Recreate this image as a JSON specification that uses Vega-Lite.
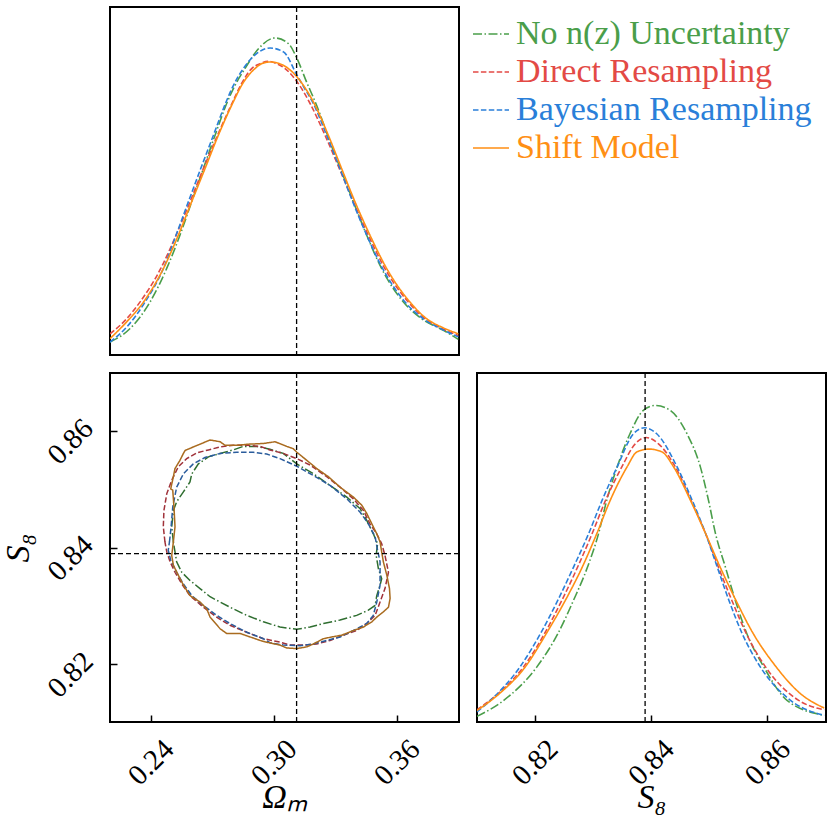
{
"$schema": "https://vega.github.io/schema/vega-lite/v6.json",
"background": "white",
"padding": {"left": 0, "top": 5, "right": 4, "bottom": 5},
"bounds": "flush",
"spacing": 18,
"columns": 2,
"config": {
  "view": {"stroke": "black", "strokeWidth": 2},
  "font": "Liberation Serif",
  "axis": {"domain": false, "grid": false, "tickColor": "black", "tickWidth": 1.5, "tickSize": -7,
    "labelFont": "Liberation Serif", "labelFontSize": 29, "labelColor": "black", "labelAngle": -45,
    "labelAlign": "center", "labelBaseline": "middle", "labelFlush": false, "labelOverlap": false,
    "titleFont": "Liberation Serif", "titleFontSize": 34, "titleFontWeight": "normal", "titleColor": "black", "titleFontStyle": "italic"}
},
"datasets": {
  "truth": [{"om": 0.3112, "s8": 0.839}],
  "legendRows": [{"series": "No n(z) Uncertainty"}, {"series": "Direct Resampling"}, {"series": "Bayesian Resampling"}, {"series": "Shift Model"}],
  "om1d": [
    {"series":"No n(z) Uncertainty","om":0.2202,"d":0.037},{"series":"No n(z) Uncertainty","om":0.2300,"d":0.076},{"series":"No n(z) Uncertainty","om":0.2397,"d":0.152},{"series":"No n(z) Uncertainty","om":0.2478,"d":0.248},{"series":"No n(z) Uncertainty","om":0.2543,"d":0.344},{"series":"No n(z) Uncertainty","om":0.2600,"d":0.440},{"series":"No n(z) Uncertainty","om":0.2657,"d":0.535},{"series":"No n(z) Uncertainty","om":0.2714,"d":0.631},{"series":"No n(z) Uncertainty","om":0.2774,"d":0.727},{"series":"No n(z) Uncertainty","om":0.2812,"d":0.775},{"series":"No n(z) Uncertainty","om":0.2860,"d":0.823},{"series":"No n(z) Uncertainty","om":0.2926,"d":0.880},{"series":"No n(z) Uncertainty","om":0.3007,"d":0.911},{"series":"No n(z) Uncertainty","om":0.3072,"d":0.895},{"series":"No n(z) Uncertainty","om":0.3114,"d":0.852},{"series":"No n(z) Uncertainty","om":0.3161,"d":0.784},{"series":"No n(z) Uncertainty","om":0.3210,"d":0.717},{"series":"No n(z) Uncertainty","om":0.3275,"d":0.612},{"series":"No n(z) Uncertainty","om":0.3332,"d":0.526},{"series":"No n(z) Uncertainty","om":0.3389,"d":0.440},{"series":"No n(z) Uncertainty","om":0.3454,"d":0.344},{"series":"No n(z) Uncertainty","om":0.3527,"d":0.248},{"series":"No n(z) Uncertainty","om":0.3633,"d":0.152},{"series":"No n(z) Uncertainty","om":0.3722,"d":0.104},{"series":"No n(z) Uncertainty","om":0.3828,"d":0.071},{"series":"No n(z) Uncertainty","om":0.3901,"d":0.045},
    {"series":"Direct Resampling","om":0.2202,"d":0.061},{"series":"Direct Resampling","om":0.2283,"d":0.104},{"series":"Direct Resampling","om":0.2348,"d":0.152},{"series":"Direct Resampling","om":0.2449,"d":0.248},{"series":"Direct Resampling","om":0.2524,"d":0.344},{"series":"Direct Resampling","om":0.2592,"d":0.440},{"series":"Direct Resampling","om":0.2657,"d":0.535},{"series":"Direct Resampling","om":0.2726,"d":0.631},{"series":"Direct Resampling","om":0.2800,"d":0.727},{"series":"Direct Resampling","om":0.2839,"d":0.775},{"series":"Direct Resampling","om":0.2893,"d":0.823},{"series":"Direct Resampling","om":0.2934,"d":0.837},{"series":"Direct Resampling","om":0.2974,"d":0.844},{"series":"Direct Resampling","om":0.3015,"d":0.837},{"series":"Direct Resampling","om":0.3056,"d":0.823},{"series":"Direct Resampling","om":0.3126,"d":0.775},{"series":"Direct Resampling","om":0.3174,"d":0.727},{"series":"Direct Resampling","om":0.3251,"d":0.631},{"series":"Direct Resampling","om":0.3321,"d":0.535},{"series":"Direct Resampling","om":0.3389,"d":0.440},{"series":"Direct Resampling","om":0.3462,"d":0.344},{"series":"Direct Resampling","om":0.3543,"d":0.248},{"series":"Direct Resampling","om":0.3657,"d":0.152},{"series":"Direct Resampling","om":0.3739,"d":0.104},{"series":"Direct Resampling","om":0.3828,"d":0.074},{"series":"Direct Resampling","om":0.3901,"d":0.056},
    {"series":"Bayesian Resampling","om":0.2202,"d":0.037},{"series":"Bayesian Resampling","om":0.2283,"d":0.080},{"series":"Bayesian Resampling","om":0.2373,"d":0.152},{"series":"Bayesian Resampling","om":0.2462,"d":0.248},{"series":"Bayesian Resampling","om":0.2524,"d":0.344},{"series":"Bayesian Resampling","om":0.2584,"d":0.440},{"series":"Bayesian Resampling","om":0.2644,"d":0.535},{"series":"Bayesian Resampling","om":0.2706,"d":0.631},{"series":"Bayesian Resampling","om":0.2768,"d":0.727},{"series":"Bayesian Resampling","om":0.2804,"d":0.775},{"series":"Bayesian Resampling","om":0.2852,"d":0.823},{"series":"Bayesian Resampling","om":0.2917,"d":0.866},{"series":"Bayesian Resampling","om":0.2983,"d":0.882},{"series":"Bayesian Resampling","om":0.3048,"d":0.871},{"series":"Bayesian Resampling","om":0.3113,"d":0.805},{"series":"Bayesian Resampling","om":0.3145,"d":0.772},{"series":"Bayesian Resampling","om":0.3194,"d":0.722},{"series":"Bayesian Resampling","om":0.3259,"d":0.631},{"series":"Bayesian Resampling","om":0.3324,"d":0.535},{"series":"Bayesian Resampling","om":0.3386,"d":0.440},{"series":"Bayesian Resampling","om":0.3454,"d":0.344},{"series":"Bayesian Resampling","om":0.3532,"d":0.248},{"series":"Bayesian Resampling","om":0.3641,"d":0.152},{"series":"Bayesian Resampling","om":0.3730,"d":0.104},{"series":"Bayesian Resampling","om":0.3828,"d":0.072},{"series":"Bayesian Resampling","om":0.3901,"d":0.052},
    {"series":"Shift Model","om":0.2202,"d":0.047},{"series":"Shift Model","om":0.2283,"d":0.095},{"series":"Shift Model","om":0.2365,"d":0.152},{"series":"Shift Model","om":0.2462,"d":0.248},{"series":"Shift Model","om":0.2535,"d":0.344},{"series":"Shift Model","om":0.2600,"d":0.440},{"series":"Shift Model","om":0.2665,"d":0.535},{"series":"Shift Model","om":0.2730,"d":0.631},{"series":"Shift Model","om":0.2803,"d":0.727},{"series":"Shift Model","om":0.2844,"d":0.775},{"series":"Shift Model","om":0.2909,"d":0.823},{"series":"Shift Model","om":0.2945,"d":0.838},{"series":"Shift Model","om":0.2982,"d":0.842},{"series":"Shift Model","om":0.3025,"d":0.838},{"series":"Shift Model","om":0.3072,"d":0.823},{"series":"Shift Model","om":0.3145,"d":0.775},{"series":"Shift Model","om":0.3194,"d":0.727},{"series":"Shift Model","om":0.3267,"d":0.631},{"series":"Shift Model","om":0.3332,"d":0.535},{"series":"Shift Model","om":0.3397,"d":0.440},{"series":"Shift Model","om":0.3470,"d":0.344},{"series":"Shift Model","om":0.3552,"d":0.248},{"series":"Shift Model","om":0.3665,"d":0.152},{"series":"Shift Model","om":0.3747,"d":0.104},{"series":"Shift Model","om":0.3828,"d":0.078},{"series":"Shift Model","om":0.3901,"d":0.061}
  ],
  "s81d": [
    {"series":"No n(z) Uncertainty","s8":0.8101,"d":0.016},{"series":"No n(z) Uncertainty","s8":0.8147,"d":0.062},{"series":"No n(z) Uncertainty","s8":0.8204,"d":0.158},{"series":"No n(z) Uncertainty","s8":0.8240,"d":0.253},{"series":"No n(z) Uncertainty","s8":0.8267,"d":0.349},{"series":"No n(z) Uncertainty","s8":0.8291,"d":0.444},{"series":"No n(z) Uncertainty","s8":0.8310,"d":0.540},{"series":"No n(z) Uncertainty","s8":0.8324,"d":0.635},{"series":"No n(z) Uncertainty","s8":0.8342,"d":0.731},{"series":"No n(z) Uncertainty","s8":0.8364,"d":0.826},{"series":"No n(z) Uncertainty","s8":0.8387,"d":0.893},{"series":"No n(z) Uncertainty","s8":0.8408,"d":0.907},{"series":"No n(z) Uncertainty","s8":0.8433,"d":0.893},{"series":"No n(z) Uncertainty","s8":0.8462,"d":0.826},{"series":"No n(z) Uncertainty","s8":0.8485,"d":0.731},{"series":"No n(z) Uncertainty","s8":0.8499,"d":0.635},{"series":"No n(z) Uncertainty","s8":0.8511,"d":0.540},{"series":"No n(z) Uncertainty","s8":0.8528,"d":0.444},{"series":"No n(z) Uncertainty","s8":0.8545,"d":0.349},{"series":"No n(z) Uncertainty","s8":0.8565,"d":0.253},{"series":"No n(z) Uncertainty","s8":0.8594,"d":0.158},{"series":"No n(z) Uncertainty","s8":0.8634,"d":0.062},{"series":"No n(z) Uncertainty","s8":0.8698,"d":0.019},
    {"series":"Direct Resampling","s8":0.8101,"d":0.035},{"series":"Direct Resampling","s8":0.8140,"d":0.085},{"series":"Direct Resampling","s8":0.8181,"d":0.158},{"series":"Direct Resampling","s8":0.8217,"d":0.253},{"series":"Direct Resampling","s8":0.8247,"d":0.349},{"series":"Direct Resampling","s8":0.8274,"d":0.444},{"series":"Direct Resampling","s8":0.8299,"d":0.540},{"series":"Direct Resampling","s8":0.8322,"d":0.635},{"series":"Direct Resampling","s8":0.8350,"d":0.731},{"series":"Direct Resampling","s8":0.8373,"d":0.797},{"series":"Direct Resampling","s8":0.8392,"d":0.815},{"series":"Direct Resampling","s8":0.8413,"d":0.797},{"series":"Direct Resampling","s8":0.8442,"d":0.731},{"series":"Direct Resampling","s8":0.8469,"d":0.635},{"series":"Direct Resampling","s8":0.8494,"d":0.540},{"series":"Direct Resampling","s8":0.8516,"d":0.444},{"series":"Direct Resampling","s8":0.8539,"d":0.349},{"series":"Direct Resampling","s8":0.8564,"d":0.253},{"series":"Direct Resampling","s8":0.8597,"d":0.158},{"series":"Direct Resampling","s8":0.8654,"d":0.062},{"series":"Direct Resampling","s8":0.8698,"d":0.035},
    {"series":"Bayesian Resampling","s8":0.8101,"d":0.029},{"series":"Bayesian Resampling","s8":0.8124,"d":0.062},{"series":"Bayesian Resampling","s8":0.8175,"d":0.158},{"series":"Bayesian Resampling","s8":0.8210,"d":0.253},{"series":"Bayesian Resampling","s8":0.8240,"d":0.349},{"series":"Bayesian Resampling","s8":0.8267,"d":0.444},{"series":"Bayesian Resampling","s8":0.8293,"d":0.540},{"series":"Bayesian Resampling","s8":0.8316,"d":0.635},{"series":"Bayesian Resampling","s8":0.8342,"d":0.731},{"series":"Bayesian Resampling","s8":0.8370,"d":0.826},{"series":"Bayesian Resampling","s8":0.8389,"d":0.843},{"series":"Bayesian Resampling","s8":0.8410,"d":0.826},{"series":"Bayesian Resampling","s8":0.8445,"d":0.731},{"series":"Bayesian Resampling","s8":0.8471,"d":0.635},{"series":"Bayesian Resampling","s8":0.8494,"d":0.540},{"series":"Bayesian Resampling","s8":0.8514,"d":0.444},{"series":"Bayesian Resampling","s8":0.8534,"d":0.349},{"series":"Bayesian Resampling","s8":0.8557,"d":0.253},{"series":"Bayesian Resampling","s8":0.8588,"d":0.158},{"series":"Bayesian Resampling","s8":0.8640,"d":0.062},{"series":"Bayesian Resampling","s8":0.8698,"d":0.019},
    {"series":"Shift Model","s8":0.8101,"d":0.033},{"series":"Shift Model","s8":0.8140,"d":0.082},{"series":"Shift Model","s8":0.8184,"d":0.158},{"series":"Shift Model","s8":0.8220,"d":0.253},{"series":"Shift Model","s8":0.8253,"d":0.349},{"series":"Shift Model","s8":0.8282,"d":0.444},{"series":"Shift Model","s8":0.8307,"d":0.540},{"series":"Shift Model","s8":0.8330,"d":0.635},{"series":"Shift Model","s8":0.8359,"d":0.731},{"series":"Shift Model","s8":0.8376,"d":0.774},{"series":"Shift Model","s8":0.8397,"d":0.782},{"series":"Shift Model","s8":0.8419,"d":0.774},{"series":"Shift Model","s8":0.8439,"d":0.731},{"series":"Shift Model","s8":0.8468,"d":0.635},{"series":"Shift Model","s8":0.8494,"d":0.540},{"series":"Shift Model","s8":0.8519,"d":0.444},{"series":"Shift Model","s8":0.8546,"d":0.349},{"series":"Shift Model","s8":0.8576,"d":0.253},{"series":"Shift Model","s8":0.8612,"d":0.165},{"series":"Shift Model","s8":0.8658,"d":0.080},{"series":"Shift Model","s8":0.8698,"d":0.040}
  ],
  "contour": [
    {"series":"No n(z) Uncertainty","i":0,"om":0.2511,"s8":0.8410},{"series":"No n(z) Uncertainty","i":1,"om":0.2503,"s8":0.8436},{"series":"No n(z) Uncertainty","i":2,"om":0.2511,"s8":0.8464},{"series":"No n(z) Uncertainty","i":3,"om":0.2527,"s8":0.8479},{"series":"No n(z) Uncertainty","i":4,"om":0.2560,"s8":0.8496},{"series":"No n(z) Uncertainty","i":5,"om":0.2592,"s8":0.8513},{"series":"No n(z) Uncertainty","i":6,"om":0.2601,"s8":0.8527},{"series":"No n(z) Uncertainty","i":7,"om":0.2633,"s8":0.8544},{"series":"No n(z) Uncertainty","i":8,"om":0.2682,"s8":0.8556},{"series":"No n(z) Uncertainty","i":9,"om":0.2739,"s8":0.8562},{"series":"No n(z) Uncertainty","i":10,"om":0.2803,"s8":0.8568},{"series":"No n(z) Uncertainty","i":11,"om":0.2852,"s8":0.8574},{"series":"No n(z) Uncertainty","i":12,"om":0.2918,"s8":0.8574},{"series":"No n(z) Uncertainty","i":13,"om":0.2982,"s8":0.8569},{"series":"No n(z) Uncertainty","i":14,"om":0.3047,"s8":0.8562},{"series":"No n(z) Uncertainty","i":15,"om":0.3113,"s8":0.8544},{"series":"No n(z) Uncertainty","i":16,"om":0.3194,"s8":0.8527},{"series":"No n(z) Uncertainty","i":17,"om":0.3275,"s8":0.8507},{"series":"No n(z) Uncertainty","i":18,"om":0.3357,"s8":0.8487},{"series":"No n(z) Uncertainty","i":19,"om":0.3422,"s8":0.8467},{"series":"No n(z) Uncertainty","i":20,"om":0.3454,"s8":0.8447},{"series":"No n(z) Uncertainty","i":21,"om":0.3486,"s8":0.8424},{"series":"No n(z) Uncertainty","i":22,"om":0.3507,"s8":0.8407},{"series":"No n(z) Uncertainty","i":23,"om":0.3500,"s8":0.8387},{"series":"No n(z) Uncertainty","i":24,"om":0.3511,"s8":0.8364},{"series":"No n(z) Uncertainty","i":25,"om":0.3527,"s8":0.8347},{"series":"No n(z) Uncertainty","i":26,"om":0.3519,"s8":0.8336},{"series":"No n(z) Uncertainty","i":27,"om":0.3503,"s8":0.8318},{"series":"No n(z) Uncertainty","i":28,"om":0.3495,"s8":0.8301},{"series":"No n(z) Uncertainty","i":29,"om":0.3462,"s8":0.8293},{"series":"No n(z) Uncertainty","i":30,"om":0.3405,"s8":0.8284},{"series":"No n(z) Uncertainty","i":31,"om":0.3324,"s8":0.8276},{"series":"No n(z) Uncertainty","i":32,"om":0.3243,"s8":0.8270},{"series":"No n(z) Uncertainty","i":33,"om":0.3178,"s8":0.8264},{"series":"No n(z) Uncertainty","i":34,"om":0.3113,"s8":0.8260},{"series":"No n(z) Uncertainty","i":35,"om":0.3031,"s8":0.8264},{"series":"No n(z) Uncertainty","i":36,"om":0.2950,"s8":0.8273},{"series":"No n(z) Uncertainty","i":37,"om":0.2869,"s8":0.8284},{"series":"No n(z) Uncertainty","i":38,"om":0.2787,"s8":0.8298},{"series":"No n(z) Uncertainty","i":39,"om":0.2690,"s8":0.8316},{"series":"No n(z) Uncertainty","i":40,"om":0.2641,"s8":0.8330},{"series":"No n(z) Uncertainty","i":41,"om":0.2592,"s8":0.8344},{"series":"No n(z) Uncertainty","i":42,"om":0.2552,"s8":0.8358},{"series":"No n(z) Uncertainty","i":43,"om":0.2527,"s8":0.8376},{"series":"No n(z) Uncertainty","i":44,"om":0.2519,"s8":0.8393},{"series":"No n(z) Uncertainty","i":45,"om":0.2511,"s8":0.8410},
    {"series":"Direct Resampling","i":0,"om":0.2470,"s8":0.8410},{"series":"Direct Resampling","i":1,"om":0.2462,"s8":0.8436},{"series":"Direct Resampling","i":2,"om":0.2465,"s8":0.8464},{"series":"Direct Resampling","i":3,"om":0.2479,"s8":0.8493},{"series":"Direct Resampling","i":4,"om":0.2503,"s8":0.8516},{"series":"Direct Resampling","i":5,"om":0.2535,"s8":0.8539},{"series":"Direct Resampling","i":6,"om":0.2576,"s8":0.8553},{"series":"Direct Resampling","i":7,"om":0.2625,"s8":0.8563},{"series":"Direct Resampling","i":8,"om":0.2682,"s8":0.8568},{"series":"Direct Resampling","i":9,"om":0.2739,"s8":0.8573},{"series":"Direct Resampling","i":10,"om":0.2803,"s8":0.8576},{"series":"Direct Resampling","i":11,"om":0.2869,"s8":0.8576},{"series":"Direct Resampling","i":12,"om":0.2934,"s8":0.8574},{"series":"Direct Resampling","i":13,"om":0.2982,"s8":0.8568},{"series":"Direct Resampling","i":14,"om":0.3047,"s8":0.8562},{"series":"Direct Resampling","i":15,"om":0.3113,"s8":0.8553},{"series":"Direct Resampling","i":16,"om":0.3178,"s8":0.8542},{"series":"Direct Resampling","i":17,"om":0.3259,"s8":0.8522},{"series":"Direct Resampling","i":18,"om":0.3324,"s8":0.8504},{"series":"Direct Resampling","i":19,"om":0.3389,"s8":0.8484},{"series":"Direct Resampling","i":20,"om":0.3438,"s8":0.8464},{"series":"Direct Resampling","i":21,"om":0.3470,"s8":0.8441},{"series":"Direct Resampling","i":22,"om":0.3503,"s8":0.8424},{"series":"Direct Resampling","i":23,"om":0.3527,"s8":0.8407},{"series":"Direct Resampling","i":24,"om":0.3543,"s8":0.8387},{"series":"Direct Resampling","i":25,"om":0.3560,"s8":0.8358},{"series":"Direct Resampling","i":26,"om":0.3543,"s8":0.8330},{"series":"Direct Resampling","i":27,"om":0.3519,"s8":0.8307},{"series":"Direct Resampling","i":28,"om":0.3495,"s8":0.8284},{"series":"Direct Resampling","i":29,"om":0.3454,"s8":0.8270},{"series":"Direct Resampling","i":30,"om":0.3405,"s8":0.8258},{"series":"Direct Resampling","i":31,"om":0.3340,"s8":0.8250},{"series":"Direct Resampling","i":32,"om":0.3275,"s8":0.8241},{"series":"Direct Resampling","i":33,"om":0.3210,"s8":0.8235},{"series":"Direct Resampling","i":34,"om":0.3145,"s8":0.8233},{"series":"Direct Resampling","i":35,"om":0.3080,"s8":0.8233},{"series":"Direct Resampling","i":36,"om":0.3031,"s8":0.8238},{"series":"Direct Resampling","i":37,"om":0.2950,"s8":0.8244},{"series":"Direct Resampling","i":38,"om":0.2869,"s8":0.8255},{"series":"Direct Resampling","i":39,"om":0.2787,"s8":0.8267},{"series":"Direct Resampling","i":40,"om":0.2722,"s8":0.8281},{"series":"Direct Resampling","i":41,"om":0.2657,"s8":0.8298},{"series":"Direct Resampling","i":42,"om":0.2592,"s8":0.8318},{"series":"Direct Resampling","i":43,"om":0.2552,"s8":0.8338},{"series":"Direct Resampling","i":44,"om":0.2519,"s8":0.8358},{"series":"Direct Resampling","i":45,"om":0.2495,"s8":0.8376},{"series":"Direct Resampling","i":46,"om":0.2479,"s8":0.8393},{"series":"Direct Resampling","i":47,"om":0.2470,"s8":0.8410},
    {"series":"Bayesian Resampling","i":0,"om":0.2492,"s8":0.8410},{"series":"Bayesian Resampling","i":1,"om":0.2500,"s8":0.8436},{"series":"Bayesian Resampling","i":2,"om":0.2508,"s8":0.8470},{"series":"Bayesian Resampling","i":3,"om":0.2527,"s8":0.8504},{"series":"Bayesian Resampling","i":4,"om":0.2560,"s8":0.8527},{"series":"Bayesian Resampling","i":5,"om":0.2608,"s8":0.8544},{"series":"Bayesian Resampling","i":6,"om":0.2665,"s8":0.8555},{"series":"Bayesian Resampling","i":7,"om":0.2739,"s8":0.8562},{"series":"Bayesian Resampling","i":8,"om":0.2820,"s8":0.8564},{"series":"Bayesian Resampling","i":9,"om":0.2901,"s8":0.8564},{"series":"Bayesian Resampling","i":10,"om":0.2966,"s8":0.8561},{"series":"Bayesian Resampling","i":11,"om":0.3031,"s8":0.8553},{"series":"Bayesian Resampling","i":12,"om":0.3113,"s8":0.8540},{"series":"Bayesian Resampling","i":13,"om":0.3194,"s8":0.8524},{"series":"Bayesian Resampling","i":14,"om":0.3275,"s8":0.8507},{"series":"Bayesian Resampling","i":15,"om":0.3357,"s8":0.8484},{"series":"Bayesian Resampling","i":16,"om":0.3422,"s8":0.8461},{"series":"Bayesian Resampling","i":17,"om":0.3462,"s8":0.8441},{"series":"Bayesian Resampling","i":18,"om":0.3495,"s8":0.8419},{"series":"Bayesian Resampling","i":19,"om":0.3504,"s8":0.8401},{"series":"Bayesian Resampling","i":20,"om":0.3519,"s8":0.8376},{"series":"Bayesian Resampling","i":21,"om":0.3519,"s8":0.8336},{"series":"Bayesian Resampling","i":22,"om":0.3503,"s8":0.8307},{"series":"Bayesian Resampling","i":23,"om":0.3486,"s8":0.8284},{"series":"Bayesian Resampling","i":24,"om":0.3454,"s8":0.8270},{"series":"Bayesian Resampling","i":25,"om":0.3389,"s8":0.8258},{"series":"Bayesian Resampling","i":26,"om":0.3324,"s8":0.8247},{"series":"Bayesian Resampling","i":27,"om":0.3259,"s8":0.8241},{"series":"Bayesian Resampling","i":28,"om":0.3194,"s8":0.8235},{"series":"Bayesian Resampling","i":29,"om":0.3129,"s8":0.8232},{"series":"Bayesian Resampling","i":30,"om":0.3047,"s8":0.8233},{"series":"Bayesian Resampling","i":31,"om":0.2982,"s8":0.8237},{"series":"Bayesian Resampling","i":32,"om":0.2950,"s8":0.8244},{"series":"Bayesian Resampling","i":33,"om":0.2869,"s8":0.8255},{"series":"Bayesian Resampling","i":34,"om":0.2787,"s8":0.8270},{"series":"Bayesian Resampling","i":35,"om":0.2722,"s8":0.8284},{"series":"Bayesian Resampling","i":36,"om":0.2657,"s8":0.8301},{"series":"Bayesian Resampling","i":37,"om":0.2601,"s8":0.8318},{"series":"Bayesian Resampling","i":38,"om":0.2560,"s8":0.8338},{"series":"Bayesian Resampling","i":39,"om":0.2527,"s8":0.8358},{"series":"Bayesian Resampling","i":40,"om":0.2498,"s8":0.8379},{"series":"Bayesian Resampling","i":41,"om":0.2486,"s8":0.8396},{"series":"Bayesian Resampling","i":42,"om":0.2492,"s8":0.8410},
    {"series":"Shift Model","i":0,"om":0.2511,"s8":0.8410},{"series":"Shift Model","i":1,"om":0.2519,"s8":0.8436},{"series":"Shift Model","i":2,"om":0.2514,"s8":0.8470},{"series":"Shift Model","i":3,"om":0.2508,"s8":0.8499},{"series":"Shift Model","i":4,"om":0.2498,"s8":0.8501},{"series":"Shift Model","i":5,"om":0.2511,"s8":0.8522},{"series":"Shift Model","i":6,"om":0.2519,"s8":0.8536},{"series":"Shift Model","i":7,"om":0.2543,"s8":0.8550},{"series":"Shift Model","i":8,"om":0.2560,"s8":0.8562},{"series":"Shift Model","i":9,"om":0.2568,"s8":0.8567},{"series":"Shift Model","i":10,"om":0.2608,"s8":0.8573},{"series":"Shift Model","i":11,"om":0.2649,"s8":0.8579},{"series":"Shift Model","i":12,"om":0.2690,"s8":0.8585},{"series":"Shift Model","i":13,"om":0.2739,"s8":0.8582},{"series":"Shift Model","i":14,"om":0.2763,"s8":0.8576},{"series":"Shift Model","i":15,"om":0.2820,"s8":0.8576},{"series":"Shift Model","i":16,"om":0.2885,"s8":0.8578},{"series":"Shift Model","i":17,"om":0.2950,"s8":0.8579},{"series":"Shift Model","i":18,"om":0.3007,"s8":0.8582},{"series":"Shift Model","i":19,"om":0.3064,"s8":0.8574},{"series":"Shift Model","i":20,"om":0.3096,"s8":0.8570},{"series":"Shift Model","i":21,"om":0.3113,"s8":0.8564},{"series":"Shift Model","i":22,"om":0.3162,"s8":0.8550},{"series":"Shift Model","i":23,"om":0.3210,"s8":0.8536},{"series":"Shift Model","i":24,"om":0.3267,"s8":0.8522},{"series":"Shift Model","i":25,"om":0.3324,"s8":0.8504},{"series":"Shift Model","i":26,"om":0.3389,"s8":0.8487},{"series":"Shift Model","i":27,"om":0.3430,"s8":0.8473},{"series":"Shift Model","i":28,"om":0.3454,"s8":0.8459},{"series":"Shift Model","i":29,"om":0.3479,"s8":0.8441},{"series":"Shift Model","i":30,"om":0.3503,"s8":0.8424},{"series":"Shift Model","i":31,"om":0.3519,"s8":0.8410},{"series":"Shift Model","i":32,"om":0.3527,"s8":0.8393},{"series":"Shift Model","i":33,"om":0.3535,"s8":0.8376},{"series":"Shift Model","i":34,"om":0.3552,"s8":0.8353},{"series":"Shift Model","i":35,"om":0.3565,"s8":0.8330},{"series":"Shift Model","i":36,"om":0.3568,"s8":0.8313},{"series":"Shift Model","i":37,"om":0.3560,"s8":0.8298},{"series":"Shift Model","i":38,"om":0.3535,"s8":0.8290},{"series":"Shift Model","i":39,"om":0.3503,"s8":0.8281},{"series":"Shift Model","i":40,"om":0.3479,"s8":0.8273},{"series":"Shift Model","i":41,"om":0.3438,"s8":0.8264},{"series":"Shift Model","i":42,"om":0.3389,"s8":0.8258},{"series":"Shift Model","i":43,"om":0.3332,"s8":0.8250},{"series":"Shift Model","i":44,"om":0.3284,"s8":0.8247},{"series":"Shift Model","i":45,"om":0.3243,"s8":0.8244},{"series":"Shift Model","i":46,"om":0.3194,"s8":0.8235},{"series":"Shift Model","i":47,"om":0.3162,"s8":0.8230},{"series":"Shift Model","i":48,"om":0.3113,"s8":0.8227},{"series":"Shift Model","i":49,"om":0.3064,"s8":0.8228},{"series":"Shift Model","i":50,"om":0.3031,"s8":0.8233},{"series":"Shift Model","i":51,"om":0.2966,"s8":0.8238},{"series":"Shift Model","i":52,"om":0.2934,"s8":0.8241},{"series":"Shift Model","i":53,"om":0.2885,"s8":0.8247},{"series":"Shift Model","i":54,"om":0.2836,"s8":0.8253},{"series":"Shift Model","i":55,"om":0.2771,"s8":0.8253},{"series":"Shift Model","i":56,"om":0.2739,"s8":0.8261},{"series":"Shift Model","i":57,"om":0.2690,"s8":0.8281},{"series":"Shift Model","i":58,"om":0.2674,"s8":0.8295},{"series":"Shift Model","i":59,"om":0.2641,"s8":0.8307},{"series":"Shift Model","i":60,"om":0.2592,"s8":0.8318},{"series":"Shift Model","i":61,"om":0.2560,"s8":0.8336},{"series":"Shift Model","i":62,"om":0.2535,"s8":0.8353},{"series":"Shift Model","i":63,"om":0.2511,"s8":0.8370},{"series":"Shift Model","i":64,"om":0.2503,"s8":0.8387},{"series":"Shift Model","i":65,"om":0.2511,"s8":0.8410}
  ]
},
"concat": [
  {
    "width": 349, "height": 348,
    "layer": [
      {"data": {"name": "om1d"}, "mark": {"type": "line", "strokeWidth": 1.6, "clip": true, "interpolate": "monotone"},
       "encoding": {
         "x": {"field": "om", "type": "quantitative", "scale": {"domain": [0.2202, 0.3904], "nice": false, "zero": false}, "axis": null},
         "y": {"field": "d", "type": "quantitative", "scale": {"domain": [0, 1], "nice": false}, "axis": null},
         "color": {"field": "series", "type": "nominal", "legend": null, "scale": {"domain": ["No n(z) Uncertainty", "Direct Resampling", "Bayesian Resampling", "Shift Model"], "range": ["#4a9e4a", "#e34a45", "#2a7fd9", "#ff8f14"]}},
         "strokeDash": {"field": "series", "type": "nominal", "legend": null, "scale": {"domain": ["No n(z) Uncertainty", "Direct Resampling", "Bayesian Resampling", "Shift Model"], "range": [[9, 2.5, 1.5, 2.5], [5.5, 2.4], [5.5, 2.4], [1, 0]]}}
       }},
      {"data": {"name": "truth"}, "mark": {"type": "rule", "color": "black", "strokeWidth": 1.3, "strokeDash": [5, 3]},
       "encoding": {"x": {"field": "om", "type": "quantitative"}}}
    ]
  },
  {
    "width": 349, "height": 348,
    "view": {"stroke": null},
    "data": {"name": "legendRows"},
    "mark": {"type": "line", "strokeWidth": 1.5},
    "encoding": {
      "color": {"field": "series", "type": "nominal",
        "scale": {"domain": ["No n(z) Uncertainty", "Direct Resampling", "Bayesian Resampling", "Shift Model"], "range": ["#4a9e4a", "#e34a45", "#2a7fd9", "#ff8f14"]},
        "legend": {"orient": "none", "legendX": -5, "legendY": 8, "title": null, "padding": 0, "symbolType": "stroke", "symbolSize": 1296, "symbolStrokeWidth": 1.5, "labelFont": "Liberation Serif", "labelFontSize": 34, "labelOffset": 6, "rowPadding": 2, "labelLimit": 500,
          "encode": {"labels": {"update": {"fill": {"signal": "datum.value === 'No n(z) Uncertainty' ? '#4a9e4a' : datum.value === 'Direct Resampling' ? '#e34a45' : datum.value === 'Bayesian Resampling' ? '#2a7fd9' : '#ff8f14'"}}}}}},
      "strokeDash": {"field": "series", "type": "nominal",
        "scale": {"domain": ["No n(z) Uncertainty", "Direct Resampling", "Bayesian Resampling", "Shift Model"], "range": [[9, 2.5, 1.5, 2.5], [5.5, 2.4], [5.5, 2.4], [1, 0]]},
        "legend": {"orient": "none", "legendX": -5, "legendY": 8, "title": null, "padding": 0, "symbolType": "stroke", "symbolSize": 1296, "symbolStrokeWidth": 1.5, "labelFont": "Liberation Serif", "labelFontSize": 34, "labelOffset": 6, "rowPadding": 2, "labelLimit": 500,
          "encode": {"labels": {"update": {"fill": {"signal": "datum.value === 'No n(z) Uncertainty' ? '#4a9e4a' : datum.value === 'Direct Resampling' ? '#e34a45' : datum.value === 'Bayesian Resampling' ? '#2a7fd9' : '#ff8f14'"}}}}}}
    }
  },
  {
    "width": 349, "height": 349,
    "layer": [
      {"data": {"name": "contour"}, "mark": {"type": "line", "strokeWidth": 1.5, "clip": true},
       "encoding": {
         "x": {"field": "om", "type": "quantitative", "scale": {"domain": [0.2202, 0.3904], "nice": false, "zero": false},
               "axis": {"values": [0.24, 0.30, 0.36], "format": ".2f", "title": "Ωₘ", "labelPadding": 47, "titlePadding": -10}},
         "y": {"field": "s8", "type": "quantitative", "scale": {"domain": [0.8101, 0.8700], "nice": false, "zero": false},
               "axis": {"values": [0.82, 0.84, 0.86], "format": ".2f", "title": "S₈", "labelPadding": 47, "labelOffset": 10, "titlePadding": 7}},
         "order": {"field": "i", "type": "quantitative"},
         "color": {"field": "series", "type": "nominal", "legend": null, "scale": {"domain": ["No n(z) Uncertainty", "Direct Resampling", "Bayesian Resampling", "Shift Model"], "range": ["#2f6e30", "#a0323a", "#2a5c9c", "#a96b1f"]}},
         "strokeDash": {"field": "series", "type": "nominal", "legend": null, "scale": {"domain": ["No n(z) Uncertainty", "Direct Resampling", "Bayesian Resampling", "Shift Model"], "range": [[9, 2.5, 1.5, 2.5], [5.5, 2.4], [5.5, 2.4], [1, 0]]}}
       }},
      {"data": {"name": "truth"}, "mark": {"type": "rule", "color": "black", "strokeWidth": 1.3, "strokeDash": [5, 3]},
       "encoding": {"x": {"field": "om", "type": "quantitative"}}},
      {"data": {"name": "truth"}, "mark": {"type": "rule", "color": "black", "strokeWidth": 1.3, "strokeDash": [5, 3]},
       "encoding": {"y": {"field": "s8", "type": "quantitative"}}}
    ]
  },
  {
    "width": 349, "height": 349,
    "layer": [
      {"data": {"name": "s81d"}, "mark": {"type": "line", "strokeWidth": 1.6, "clip": true, "interpolate": "monotone"},
       "encoding": {
         "x": {"field": "s8", "type": "quantitative", "scale": {"domain": [0.8101, 0.8701], "nice": false, "zero": false},
               "axis": {"values": [0.82, 0.84, 0.86], "format": ".2f", "title": "S₈", "labelPadding": 47, "titlePadding": -10}},
         "y": {"field": "d", "type": "quantitative", "scale": {"domain": [0, 1], "nice": false}, "axis": null},
         "color": {"field": "series", "type": "nominal", "legend": null, "scale": {"domain": ["No n(z) Uncertainty", "Direct Resampling", "Bayesian Resampling", "Shift Model"], "range": ["#4a9e4a", "#e34a45", "#2a7fd9", "#ff8f14"]}},
         "strokeDash": {"field": "series", "type": "nominal", "legend": null, "scale": {"domain": ["No n(z) Uncertainty", "Direct Resampling", "Bayesian Resampling", "Shift Model"], "range": [[9, 2.5, 1.5, 2.5], [5.5, 2.4], [5.5, 2.4], [1, 0]]}}
       }},
      {"data": {"name": "truth"}, "mark": {"type": "rule", "color": "black", "strokeWidth": 1.3, "strokeDash": [5, 3]},
       "encoding": {"x": {"field": "s8", "type": "quantitative"}}}
    ]
  }
],
"resolve": {"scale": {"color": "independent", "strokeDash": "independent"}}
}
